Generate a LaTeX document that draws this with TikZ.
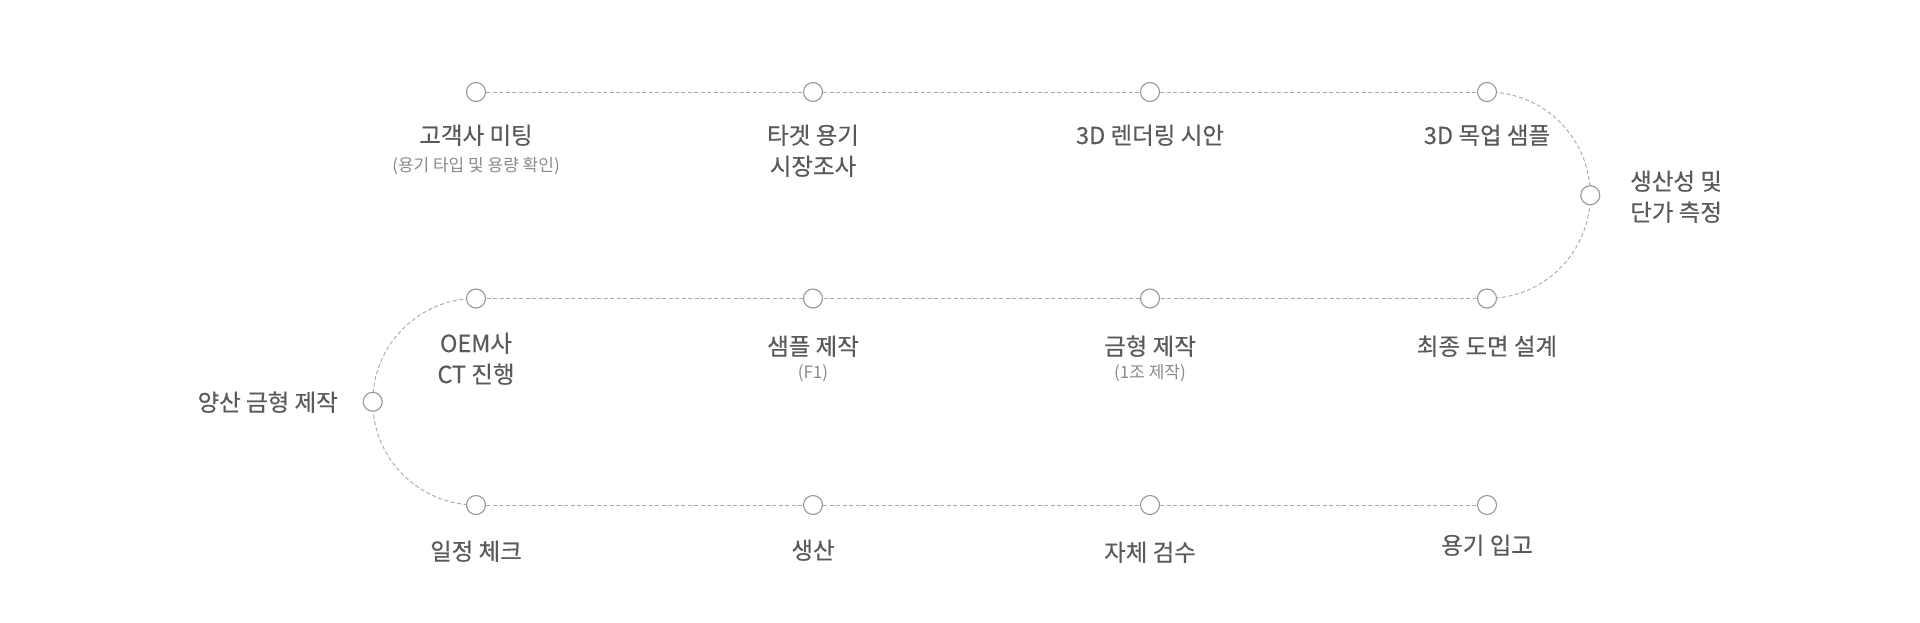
\documentclass[tikz,border=0pt]{standalone}
\usepackage{fontspec}
\setmainfont{Noto Sans CJK KR}
\newfontfamily\labfont{Noto Sans CJK KR}[FakeBold=0.35]
\usetikzlibrary{backgrounds}
\definecolor{txt}{HTML}{5A5A5A}
\definecolor{subtxt}{HTML}{8A8A8A}
\definecolor{circ}{HTML}{979797}
\definecolor{linecol}{HTML}{A8A8A8}
\begin{document}
\begin{tikzpicture}[x=1pt,y=-1pt,
  pt/.style={circle,draw=circ,fill=white,line width=1.1pt,minimum size=19pt,inner sep=0pt},
  lab/.style={text=txt,font=\labfont\fontsize{23.5}{31}\selectfont,align=center,anchor=base,inner sep=0pt},
  sublab/.style={text=subtxt,font=\fontsize{17}{20}\selectfont,anchor=base,inner sep=0pt},
  link/.style={draw=linecol,line width=0.9pt,dash pattern=on 4pt off 2.5pt}]
\useasboundingbox (0,0) rectangle (1920,622);
% circles
\node[pt] (c1) at (476,92) {};
\node[pt] (c2) at (813,92) {};
\node[pt] (c3) at (1150,92) {};
\node[pt] (c4) at (1487,92) {};
\node[pt] (c5) at (1590.25,195.25) {};
\node[pt] (c6) at (1487,298.5) {};
\node[pt] (c7) at (1150,298.5) {};
\node[pt] (c8) at (813,298.5) {};
\node[pt] (c9) at (476,298.5) {};
\node[pt] (c10) at (372.75,401.75) {};
\node[pt] (c11) at (476,505) {};
\node[pt] (c12) at (813,505) {};
\node[pt] (c13) at (1150,505) {};
\node[pt] (c14) at (1487,505) {};
% connectors
\begin{scope}[on background layer]
\draw[link] (c1) -- (c2);
\draw[link] (c2) -- (c3);
\draw[link] (c3) -- (c4);
\draw[link] (c4.center) arc[start angle=90,end angle=0,radius=103.25pt];
\draw[link] (c5.center) arc[start angle=0,end angle=-90,radius=103.25pt];
\draw[link] (c6) -- (c7);
\draw[link] (c7) -- (c8);
\draw[link] (c8) -- (c9);
\draw[link] (c9.center) arc[start angle=90,end angle=180,radius=103.25pt];
\draw[link] (c10.center) arc[start angle=180,end angle=270,radius=103.25pt];
\draw[link] (c11) -- (c12);
\draw[link] (c12) -- (c13);
\draw[link] (c13) -- (c14);
\end{scope}
% labels (multi-line nodes are placed by the baseline of their last line)
\node[lab] (l1) at (476,144) {고객사 미팅};
\node[sublab] (s1) at (476,171) {(용기 타입 및 용량 확인)};
\node[lab] (l2) at (813,175) {타겟 용기\\시장조사};
\node[lab] (l3) at (1150,144) {3D 렌더링 시안};
\node[lab] (l4) at (1487,144) {3D 목업 샘플};
\node[lab,anchor=base west] (l5) at (1630,221) {생산성 및\\단가 측정};
\node[lab] (l6) at (1487,355) {최종 도면 설계};
\node[lab] (l7) at (1150,355) {금형 제작};
\node[sublab] (s7) at (1150,378) {(1조 제작)};
\node[lab] (l8) at (813,355) {샘플 제작};
\node[sublab] (s8) at (813,378) {(F1)};
\node[lab] (l9) at (476,383) {OEM사\\CT 진행};
\node[lab,anchor=base east] (l10) at (338,411) {양산 금형 제작};
\node[lab] (l11) at (476,560) {일정 체크};
\node[lab] (l12) at (813,559) {생산};
\node[lab] (l13) at (1150,561) {자체 검수};
\node[lab] (l14) at (1487,554) {용기 입고};
\end{tikzpicture}
\end{document}
